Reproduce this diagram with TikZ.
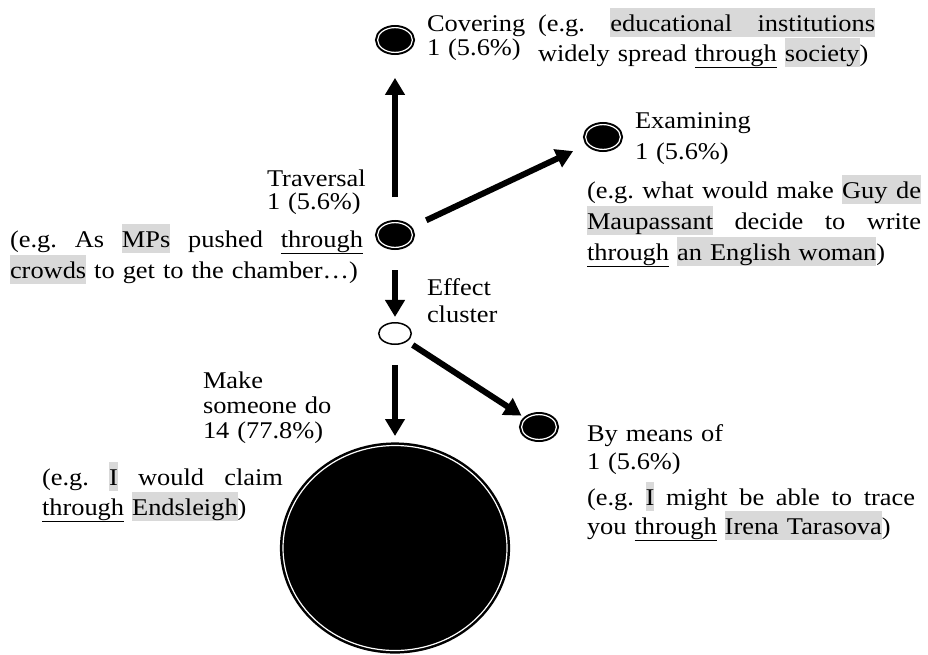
\documentclass[tikz,border=0pt]{standalone}
\usepackage{fontspec}
\setmainfont{Liberation Serif}[FakeStretch=1.1]
\usetikzlibrary{arrows.meta,shapes.geometric}
\definecolor{hlgray}{RGB}{217,217,217}
\newcommand{\hlb}[1]{{\setlength{\fboxsep}{0pt}\colorbox{hlgray}{\rule[-6pt]{0pt}{29pt}#1}}}
\newcommand{\hgp}{{\color{hlgray}\leaders\hrule height 23pt depth 6pt\hfill}}
\newcommand{\gp}{\hfill}
\newcommand{\ulw}[1]{\underline{#1}}
\tikzset{
  ring/.style={ellipse, fill=black, draw=black, double=white, double distance=1.2pt,
    line width=2pt, inner sep=0pt, outer sep=0pt, minimum width=34.8pt, minimum height=24.8pt},
  bigring/.style={ellipse, fill=black, draw=black, double=white, double distance=1.2pt,
    line width=2.5pt, inner sep=0pt, outer sep=0pt, minimum width=224pt, minimum height=205pt},
  hollow/.style={ellipse, fill=white, draw=black, line width=1.5pt, inner sep=0pt,
    outer sep=0pt, minimum width=32.5pt, minimum height=21.5pt},
  arr/.style={line width=6pt, -{Triangle[width=19pt,length=17pt]}},
  lbl/.style={anchor=base west, inner sep=0pt, outer sep=0pt, align=left, text width=#1},
}
\begin{document}
\begin{tikzpicture}[x=1pt,y=-1pt]
\useasboundingbox (0,0) rectangle (928,654);

% nodes (ellipses)
\node[ring] (cov) at (395,40) {};
\node[ring] (trav) at (395,235) {};
\node[hollow] (eff) at (395,333.5) {};
\node[ring] (exam) at (603,137) {};
\node[ring] (bym) at (539,427) {};
\node[bigring] (big) at (395,548) {};

% connectors
\draw[arr, shorten <=25.5pt, shorten >=25.5pt] (trav) -- (cov);
\draw[arr, shorten <=18.5pt, shorten >=17pt] (trav) -- (exam);
\draw[arr, shorten <=22.6pt, shorten >=5.8pt] (trav) -- (eff);
\draw[arr, shorten <=20.7pt, shorten >=9.5pt] (eff) -- (big);
\draw[arr, shorten <=7.3pt, shorten >=5.5pt] (eff) -- (bym);

% labels
\node[lbl=110pt, font=\fontsize{24}{24}\selectfont] (covl) at (427,31) {Covering\\1 (5.6\%)};
\node[lbl=337pt, font=\fontsize{24}{24}\selectfont] (covx) at (538,31)
  {\makebox[\linewidth][s]{(e.g.\gp\hlb{educational}\hgp\hlb{institutions}}\\
   widely spread \ulw{through} \hlb{society})};

\node[lbl=110pt, font=\fontsize{24}{23}\selectfont] (travl) at (267,186) {Traversal\\1 (5.6\%)};
\node[lbl=353pt, font=\fontsize{24}{30}\selectfont] (travx) at (10,247)
  {\makebox[\linewidth][s]{(e.g.\gp As\gp\hlb{MPs}\gp pushed\gp\ulw{through}}\\
   \hlb{crowds} to get to the chamber…)};

\node[lbl=140pt, font=\fontsize{24}{31}\selectfont] (examl) at (635,128) {Examining\\1 (5.6\%)};
\node[lbl=334pt, font=\fontsize{24}{31}\selectfont] (examx) at (587,198)
  {\makebox[\linewidth][s]{(e.g.\gp what\gp would\gp make\gp\hlb{Guy}\hgp\hlb{de}}\\
   \makebox[\linewidth][s]{\hlb{Maupassant}\gp decide\gp to\gp write}\\
   \ulw{through} \hlb{an English woman})};

\node[lbl=100pt, font=\fontsize{24}{27}\selectfont] (effl) at (427,295) {Effect\\cluster};

\node[lbl=140pt, font=\fontsize{24}{25}\selectfont] (makel) at (203,388) {Make\\someone do\\14 (77.8\%)};
\node[lbl=241pt, font=\fontsize{24}{28}\selectfont] (makex) at (42,485)
  {\makebox[\linewidth][s]{(e.g.\gp\hlb{I}\gp would\gp claim}\\
   \ulw{through} \hlb{Endsleigh})};

\node[lbl=160pt, font=\fontsize{24}{28}\selectfont] (byml) at (587,441) {By means of\\1 (5.6\%)};
\node[lbl=328pt, font=\fontsize{24}{29}\selectfont] (bymx) at (587,505)
  {\makebox[\linewidth][s]{(e.g.\gp\hlb{I}\gp might\gp be\gp able\gp to\gp trace}\\
   you \ulw{through} \hlb{Irena Tarasova})};
\end{tikzpicture}
\end{document}
